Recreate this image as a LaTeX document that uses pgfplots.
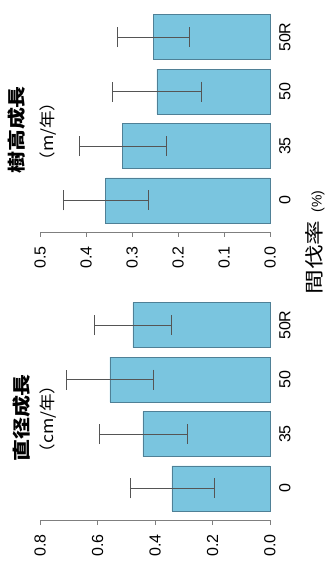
\documentclass[border=0pt]{standalone}
\usepackage{fontspec}
\usepackage{graphicx}
\setmainfont{Liberation Sans}
\newfontfamily\jp{Noto Sans CJK JP}
\newfontfamily\lib{Liberation Sans}
\usepackage{pgfplots}
\pgfplotsset{compat=1.18}
\definecolor{barfill}{HTML}{7AC5DF}
\definecolor{barline}{HTML}{4F8096}
\definecolor{errc}{HTML}{555555}
\definecolor{axc}{HTML}{7F7F7F}
\pgfplotstableread{
c v e
0 0.357 0.093
1 0.320 0.095
2 0.246 0.097
3 0.254 0.078
}\heighttab
\pgfplotstableread{
c v e
0 0.341 0.146
1 0.442 0.153
2 0.557 0.150
3 0.477 0.134
}\diamtab
\pgfplotsset{rbar/.style={
  width=230pt, height=222pt, scale only axis,
  x dir=reverse, xmin=0,
  ymin=-0.58, ymax=3.5,
  axis x line*=bottom, axis y line*=right,
  x axis line style={axc, line width=0.8pt},
  y axis line style={draw=none},
  xtick align=outside, major tick length=5pt,
  xtick style={axc, line width=0.8pt},
  ytick style={draw=none},
  ytick={0,1,2,3}, yticklabels={0,35,50,50R},
  /pgf/number format/assume math mode=true,
  /pgf/number format/fixed, /pgf/number format/fixed zerofill, /pgf/number format/precision=1,
  xticklabel style={rotate=90, anchor=east, inner sep=0pt, font=\fontsize{16}{16}\selectfont},
  xticklabel shift=9pt,
  yticklabel style={rotate=90, anchor=north, inner sep=0pt, font=\fontsize{16}{16}\selectfont},
  yticklabel shift=9pt,
  clip=false,
}}
\pgfplotsset{rseries/.style={
  xbar, bar width=0.826, fill=barfill, draw=barline, line width=0.6pt,
  error bars/.cd, x dir=both, x explicit,
  error bar style={errc, line width=0.8pt},
  error mark options={errc, line width=0.8pt, mark size=10pt, rotate=90},
}}
\begin{document}
\begin{tikzpicture}
\path[use as bounding box] (0pt,0pt) rectangle (327pt,563pt);
\begin{axis}[rbar, at={(40pt,331pt)}, anchor=south west, xmax=0.5, xtick={0,0.1,0.2,0.3,0.4,0.5}]
\addplot[rseries] table[x=v, y=c, x error=e] {\heighttab};
\end{axis}
\begin{axis}[rbar, at={(40pt,43pt)}, anchor=south west, xmax=0.8, xtick={0,0.2,0.4,0.6,0.8}]
\addplot[rseries] table[x=v, y=c, x error=e] {\diamtab};
\end{axis}
\node[rotate=90, font=\jp\bfseries\fontsize{18}{18}\selectfont] at (17pt,433pt) {\scalebox{1.22}[1]{樹高成長}};
\node[rotate=90, font=\jp\fontsize{16}{16}\selectfont] at (48pt,431.5pt) {\scalebox{1.1}[1]{（m/年）}};
\node[rotate=90, font=\jp\bfseries\fontsize{18}{18}\selectfont] at (22pt,145pt) {\scalebox{1.22}[1]{直径成長}};
\node[rotate=90, font=\jp\fontsize{16}{16}\selectfont] at (48pt,144pt) {\scalebox{1.1}[1]{（cm/年）}};
\node[rotate=90, font=\jp\fontsize{19}{19}\selectfont] at (315pt,320.5pt) {\scalebox{1.3}[1]{間伐率}\hspace{8pt}{\lib\fontsize{14}{14}\selectfont(\%)}};
\end{tikzpicture}
\end{document}
